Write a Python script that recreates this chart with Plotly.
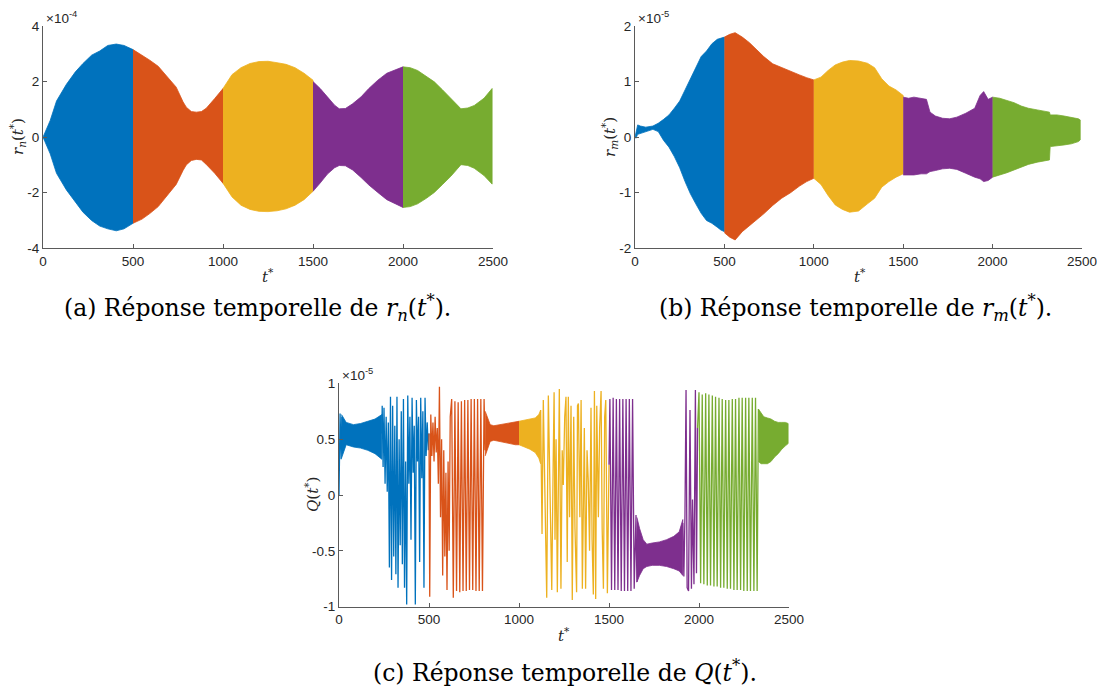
import plotly.graph_objects as go

# page body has an 8 px margin: figure is drawn inside it
PAGE_W, PAGE_H, OFF = 1105, 695, 8
W, H = PAGE_W - 2 * OFF, PAGE_H - 2 * OFF
C_BLUE, C_ORANGE, C_YELLOW, C_PURPLE, C_GREEN = "#0072BD", "#D95319", "#EDB120", "#7E2F8E", "#77AC30"

# ---------------- (a) r_n(t*), units of 1e-4 : envelopes ----------------
a_blue_t = [0, 10, 40, 75, 130, 180, 222, 270, 315, 360, 407, 450, 500]
a_blue_up = [0, 0.15, 0.6, 1.3, 1.9, 2.35, 2.65, 2.95, 3.1, 3.3, 3.35, 3.3, 3.15]
a_blue_lo = [0, -0.15, -0.6, -1.3, -1.9, -2.35, -2.7, -3.0, -3.2, -3.3, -3.37, -3.3, -3.1]
a_orange_t = [500, 550, 593, 640, 685, 740, 778, 796, 824, 852, 880, 907, 954, 1000]
a_orange_up = [3.15, 2.95, 2.77, 2.55, 2.23, 1.8, 1.27, 1.08, 0.92, 0.9, 0.92, 1.04, 1.39, 1.75]
a_orange_lo = [-3.1, -2.95, -2.75, -2.5, -2.15, -1.7, -1.2, -1.0, -0.84, -0.8, -0.82, -0.98, -1.3, -1.66]
a_yellow_t = [1000, 1050, 1100, 1150, 1200, 1250, 1300, 1350, 1400, 1450, 1500]
a_yellow_up = [1.75, 2.25, 2.5, 2.65, 2.72, 2.73, 2.68, 2.62, 2.5, 2.3, 2.05]
a_yellow_lo = [-1.66, -2.15, -2.45, -2.6, -2.67, -2.68, -2.65, -2.58, -2.45, -2.25, -1.95]
a_purple_t = [1500, 1540, 1580, 1620, 1646, 1680, 1720, 1767, 1810, 1860, 1910, 1952, 2000]
a_purple_up = [2.0, 1.75, 1.45, 1.15, 1.02, 1.03, 1.2, 1.45, 1.75, 2.05, 2.3, 2.42, 2.53]
a_purple_lo = [-1.95, -1.65, -1.33, -1.1, -1.02, -1.03, -1.18, -1.45, -1.72, -1.99, -2.25, -2.38, -2.53]
a_green_t = [2000, 2040, 2081, 2130, 2174, 2220, 2267, 2300, 2322, 2360, 2396, 2450, 2495]
a_green_up = [2.53, 2.5, 2.4, 2.2, 1.99, 1.7, 1.39, 1.15, 1.02, 1.05, 1.14, 1.4, 1.75]
a_green_lo = [-2.53, -2.5, -2.4, -2.2, -1.99, -1.7, -1.4, -1.15, -0.99, -1.02, -1.12, -1.38, -1.69]

# ---------------- (b) r_m(t*), units of 1e-5 : envelopes ----------------
b_blue_t = [0, 5, 15, 30, 60, 100, 130, 160, 190, 220, 250, 280, 310, 340, 370, 400, 430, 460, 480, 500]
b_blue_up = [0, 0.1, 0.22, 0.2, 0.18, 0.2, 0.25, 0.32, 0.4, 0.52, 0.65, 0.85, 1.05, 1.25, 1.45, 1.55, 1.68, 1.76, 1.78, 1.8]
b_blue_lo = [0, -0.02, 0.05, 0.07, 0.1, 0.14, 0.1, -0.06, -0.18, -0.35, -0.55, -0.8, -1.02, -1.2, -1.37, -1.5, -1.55, -1.62, -1.67, -1.7]
b_orange_t = [500, 530, 560, 600, 640, 680, 720, 770, 820, 870, 920, 960, 1000]
b_orange_up = [1.8, 1.85, 1.88, 1.8, 1.7, 1.58, 1.45, 1.32, 1.25, 1.18, 1.12, 1.07, 1.03]
b_orange_lo = [-1.72, -1.8, -1.85, -1.7, -1.6, -1.49, -1.38, -1.23, -1.1, -1.0, -0.88, -0.8, -0.74]
b_yellow_t = [1000, 1040, 1080, 1120, 1160, 1200, 1250, 1300, 1340, 1380, 1420, 1460, 1500]
b_yellow_up = [1.03, 1.08, 1.2, 1.3, 1.35, 1.38, 1.37, 1.33, 1.25, 1.05, 0.92, 0.85, 0.75]
b_yellow_lo = [-0.74, -0.85, -1.05, -1.22, -1.3, -1.35, -1.33, -1.2, -1.1, -0.9, -0.8, -0.72, -0.66]
b_purple_t = [1500, 1530, 1560, 1600, 1630, 1650, 1680, 1720, 1760, 1800, 1850, 1900, 1930, 1950, 1975, 2000]
b_purple_up = [0.72, 0.7, 0.72, 0.7, 0.68, 0.45, 0.38, 0.34, 0.33, 0.36, 0.43, 0.52, 0.75, 0.82, 0.68, 0.72]
b_purple_lo = [-0.68, -0.68, -0.68, -0.66, -0.66, -0.62, -0.6, -0.57, -0.56, -0.58, -0.65, -0.72, -0.75, -0.8, -0.78, -0.72]
b_green_t = [2000, 2040, 2080, 2120, 2160, 2200, 2250, 2300, 2318, 2322, 2360, 2400, 2440, 2480, 2490]
b_green_up = [0.72, 0.7, 0.66, 0.62, 0.56, 0.52, 0.49, 0.46, 0.45, 0.4, 0.4, 0.38, 0.36, 0.33, 0.31]
b_green_lo = [-0.72, -0.68, -0.64, -0.6, -0.54, -0.49, -0.45, -0.42, -0.41, -0.17, -0.16, -0.14, -0.12, -0.08, -0.05]

# ---------------- (c) Q(t*), units of 1e-5 ----------------
# dense bands (envelopes)
c_blue_band_t = [14, 40, 80, 120, 160, 200, 238]
c_blue_band_up = [0.72, 0.65, 0.63, 0.64, 0.66, 0.68, 0.72]
c_blue_band_lo = [0.33, 0.45, 0.43, 0.42, 0.40, 0.37, 0.32]
c_orange_band_t = [812, 825, 840, 860, 890, 920, 950, 980, 1000]
c_orange_band_up = [0.75, 0.70, 0.63, 0.62, 0.63, 0.64, 0.65, 0.66, 0.66]
c_orange_band_lo = [0.35, 0.40, 0.48, 0.49, 0.48, 0.47, 0.46, 0.45, 0.45]
c_yellow_band_t = [1000, 1030, 1060, 1090, 1110, 1120]
c_yellow_band_up = [0.66, 0.67, 0.68, 0.69, 0.72, 0.76]
c_yellow_band_lo = [0.45, 0.43, 0.41, 0.38, 0.33, 0.28]
c_purple_band_t = [1655, 1670, 1690, 1710, 1740, 1780, 1820, 1860, 1890, 1910]
c_purple_band_up = [-0.20, -0.30, -0.40, -0.44, -0.43, -0.42, -0.40, -0.37, -0.33, -0.22]
c_purple_band_lo = [-0.78, -0.72, -0.66, -0.64, -0.63, -0.63, -0.64, -0.66, -0.68, -0.72]
c_green_band_t = [2330, 2345, 2360, 2380, 2400, 2420, 2440, 2460, 2480, 2495]
c_green_band_up = [0.77, 0.73, 0.70, 0.69, 0.68, 0.66, 0.65, 0.65, 0.65, 0.64]
c_green_band_lo = [0.30, 0.28, 0.28, 0.28, 0.30, 0.34, 0.37, 0.41, 0.44, 0.46]

# large swings (polylines)
c_blue_sw0_t = [0, 6, 12, 16]
c_blue_sw0_q = [0.0, 0.73, 0.32, 0.70]
c_blue_sw_t = [238, 240, 245, 250, 256, 262, 268, 274, 280, 286, 292, 298, 304, 310, 316, 322, 328, 334, 340,
               346, 352, 358, 364, 370, 376, 382, 388, 394, 400, 406, 412, 418, 424, 430, 436, 442, 448, 454,
               460, 466, 472, 478, 484, 490, 496, 500]
c_blue_sw_q = [0.55, 0.80, 0.25, 0.78, 0.10, 0.70, 0.03, 0.65, -0.65, 0.88, -0.76, 0.80, -0.55, 0.62, -0.71, 0.88,
               -0.83, 0.50, -0.45, 0.75, -0.62, 0.86, -0.83, 0.30, -0.98, 0.89, 0.10, 0.70, -0.40, 0.87, 0.20,
               0.62, -0.98, 0.85, 0.30, 0.70, -0.60, 0.87, 0.15, 0.75, -0.83, 0.87, 0.35, 0.65, 0.40, 0.55]
c_orange_sw_t = [500, 504, 510, 516, 522, 528, 534, 540, 546, 552, 558, 564, 570, 576, 582, 588, 594, 600, 606,
                 612, 618, 626, 635, 644, 653, 662, 671, 680, 689, 698, 707, 716, 725, 734, 743, 752, 761, 770,
                 779, 788, 797, 806, 812]
c_orange_sw_q = [0.55, -0.91, 0.72, 0.35, 0.65, 0.30, 0.70, 0.38, 0.60, 0.10, 0.97, -0.20, 0.50, -0.72, 0.40,
                 -0.55, 0.20, -0.85, 0.30, -0.50, 0.70, 0.86, -0.92, 0.84, -0.86, 0.83, -0.87, 0.84, -0.86, 0.85,
                 -0.86, 0.85, -0.85, 0.86, -0.85, 0.86, -0.86, 0.86, -0.86, 0.86, -0.86, 0.86, 0.40]
c_yellow_sw_t = [1120, 1128, 1135, 1145, 1154, 1163, 1172, 1182, 1190, 1195, 1200, 1206, 1213, 1218, 1224, 1233,
                 1240, 1246, 1254, 1261, 1268, 1274, 1281, 1289, 1296, 1304, 1311, 1320, 1325, 1330, 1338, 1345,
                 1352, 1357, 1363, 1370, 1378, 1385, 1392, 1400, 1406, 1413, 1419, 1426, 1432, 1441, 1448, 1456,
                 1462, 1469, 1476, 1482, 1491, 1500]
c_yellow_sw_q = [0.76, -0.35, 0.85, 0.05, -0.92, 0.89, -0.10, -0.85, 0.30, 0.92, -0.40, 0.50, -0.87, 0.20, 0.95,
                 -0.84, 0.40, 0.09, 0.70, 0.88, -0.60, 0.88, -0.20, 0.80, -0.94, 0.70, -0.30, -0.87, 0.80, 0.82,
                 -0.20, 0.85, -0.84, -0.18, 0.60, -0.84, 0.40, 0.12, -0.50, 0.78, -0.40, -0.89, 0.93, -0.93, 0.80,
                 -0.20, 0.60, 0.93, -0.30, -0.84, 0.70, 0.85, -0.88, 0.27]
c_purple_sw1_t = [1500, 1505, 1514, 1523, 1532, 1541, 1550, 1559, 1568, 1577, 1586, 1595, 1604, 1613, 1622,
                  1631, 1640, 1650, 1655]
c_purple_sw1_q = [0.27, 0.86, -0.85, 0.87, -0.85, 0.86, -0.85, 0.86, -0.86, 0.86, -0.86, 0.86, -0.86, 0.86,
                  -0.86, 0.86, -0.84, -0.18, -0.78]
c_purple_sw2_t = [1910, 1916, 1922, 1928, 1934, 1942, 1950, 1958, 1964, 1972, 1980, 1986, 1992]
c_purple_sw2_q = [-0.25, -0.73, -0.18, 0.94, -0.83, -0.86, 0.76, -0.84, -0.04, -0.80, 0.94, -0.70, 0.60]
c_green_sw_t = [1992, 2000, 2009, 2018, 2027, 2037, 2046, 2055, 2064, 2074, 2083, 2092, 2101, 2111, 2120, 2129,
                2138, 2148, 2157, 2166, 2175, 2185, 2194, 2203, 2212, 2222, 2231, 2240, 2249, 2259, 2268, 2277,
                2286, 2296, 2305, 2314, 2323, 2330]
c_green_sw_q = [0.60, 0.92, -0.79, 0.90, -0.80, 0.91, -0.81, 0.90, -0.81, 0.89, -0.82, 0.88, -0.82, 0.87, -0.83,
                0.86, -0.83, 0.85, -0.84, 0.85, -0.84, 0.86, -0.85, 0.86, -0.85, 0.87, -0.85, 0.87, -0.86, 0.87,
                -0.86, 0.87, -0.86, 0.87, -0.86, 0.87, -0.86, 0.77]

ticks_x = [0, 500, 1000, 1500, 2000, 2500]
ticks_a = [-4, -2, 0, 2, 4]
ticks_b = [-2, -1, 0, 1, 2]
ticks_c = [-1, -0.5, 0, 0.5, 1]
ticktext_c = ["-1", "-0.5", "0", "0.5", "1"]

fig = go.Figure()


def band(t, up, lo, color, ax):
    fig.add_trace(go.Scatter(
        x=list(t) + list(t)[::-1], y=list(up) + list(lo)[::-1],
        fill="toself", fillcolor=color, mode="lines",
        line=dict(color=color, width=0.8), xaxis="x" + ax, yaxis="y" + ax,
        hoverinfo="skip", showlegend=False))


def swing(t, q, color, ax):
    fig.add_trace(go.Scatter(
        x=t, y=q, mode="lines", line=dict(color=color, width=1.3),
        xaxis="x" + ax, yaxis="y" + ax, hoverinfo="skip", showlegend=False))


band(a_blue_t, a_blue_up, a_blue_lo, C_BLUE, "")
band(a_orange_t, a_orange_up, a_orange_lo, C_ORANGE, "")
band(a_yellow_t, a_yellow_up, a_yellow_lo, C_YELLOW, "")
band(a_purple_t, a_purple_up, a_purple_lo, C_PURPLE, "")
band(a_green_t, a_green_up, a_green_lo, C_GREEN, "")

band(b_blue_t, b_blue_up, b_blue_lo, C_BLUE, "2")
band(b_orange_t, b_orange_up, b_orange_lo, C_ORANGE, "2")
band(b_yellow_t, b_yellow_up, b_yellow_lo, C_YELLOW, "2")
band(b_purple_t, b_purple_up, b_purple_lo, C_PURPLE, "2")
band(b_green_t, b_green_up, b_green_lo, C_GREEN, "2")

swing(c_blue_sw0_t, c_blue_sw0_q, C_BLUE, "3")
band(c_blue_band_t, c_blue_band_up, c_blue_band_lo, C_BLUE, "3")
swing(c_blue_sw_t, c_blue_sw_q, C_BLUE, "3")
swing(c_orange_sw_t, c_orange_sw_q, C_ORANGE, "3")
band(c_orange_band_t, c_orange_band_up, c_orange_band_lo, C_ORANGE, "3")
band(c_yellow_band_t, c_yellow_band_up, c_yellow_band_lo, C_YELLOW, "3")
swing(c_yellow_sw_t, c_yellow_sw_q, C_YELLOW, "3")
swing(c_purple_sw1_t, c_purple_sw1_q, C_PURPLE, "3")
band(c_purple_band_t, c_purple_band_up, c_purple_band_lo, C_PURPLE, "3")
swing(c_purple_sw2_t, c_purple_sw2_q, C_PURPLE, "3")
swing(c_green_sw_t, c_green_sw_q, C_GREEN, "3")
band(c_green_band_t, c_green_band_up, c_green_band_lo, C_GREEN, "3")

AXC = "#5a5a5a"
SANS = "Liberation Sans, Arial, sans-serif"
TF = dict(family=SANS, size=13.5, color="#262626")


def xax(dom, anchor):
    return dict(domain=dom, anchor=anchor, range=[0, 2500], tickvals=ticks_x,
                ticktext=[str(v) for v in ticks_x], showline=True, linecolor=AXC, linewidth=1,
                ticks="inside", ticklen=4, tickcolor=AXC, showgrid=False, zeroline=False,
                tickfont=TF, fixedrange=True, automargin=False, ticklabeloverflow="allow")


def yax(dom, anchor, rng, tv, tt):
    return dict(domain=dom, anchor=anchor, range=rng, tickvals=tv, ticktext=tt,
                showline=True, linecolor=AXC, linewidth=1, ticks="inside", ticklen=4,
                tickcolor=AXC, showgrid=False, zeroline=False, tickfont=TF, fixedrange=True,
                automargin=False, ticklabeloverflow="allow")


def fx(px):
    return (px - OFF) / W


def fy(py):
    return 1 - (py - OFF) / H


ax_a = (43, 493, 26, 248.3)
ax_b = (635, 1082, 26, 248.3)
ax_c = (339, 789, 383.3, 606.7)

fig.update_layout(
    template="none",
    width=W, height=H, margin=dict(l=0, r=0, t=0, b=0, autoexpand=False),
    plot_bgcolor="white", paper_bgcolor="white", showlegend=False,
    xaxis=xax([fx(ax_a[0]), fx(ax_a[1])], "y"),
    yaxis=yax([fy(ax_a[3]), fy(ax_a[2])], "x", [-4, 4], ticks_a, [str(v) for v in ticks_a]),
    xaxis2=xax([fx(ax_b[0]), fx(ax_b[1])], "y2"),
    yaxis2=yax([fy(ax_b[3]), fy(ax_b[2])], "x2", [-2, 2], ticks_b, [str(v) for v in ticks_b]),
    xaxis3=xax([fx(ax_c[0]), fx(ax_c[1])], "y3"),
    yaxis3=yax([fy(ax_c[3]), fy(ax_c[2])], "x3", [-1, 1], ticks_c, ticktext_c),
)

SERIF = "DejaVu Serif, Liberation Serif, serif"
ann = []


def note(x, y, text, size, family, xanchor="center", yanchor="middle", angle=0, color="#262626"):
    ann.append(dict(x=fx(x), y=fy(y), xref="paper", yref="paper", text=text, showarrow=False,
                    xanchor=xanchor, yanchor=yanchor, textangle=angle,
                    font=dict(size=size, family=family, color=color)))


# exponent labels
note(ax_a[0] + 1, ax_a[2] + 2, "×10<sup>-4</sup>", 13.5, SANS, xanchor="left", yanchor="bottom")
note(ax_b[0] + 1, ax_b[2] + 2, "×10<sup>-5</sup>", 13.5, SANS, xanchor="left", yanchor="bottom")
note(ax_c[0] + 1, ax_c[2] + 2, "×10<sup>-5</sup>", 13.5, SANS, xanchor="left", yanchor="bottom")
# axis titles
note(268, 276, "<i>t</i><sup>*</sup>", 15, SERIF)
note(860, 276, "<i>t</i><sup>*</sup>", 15, SERIF)
note(564, 635, "<i>t</i><sup>*</sup>", 15, SERIF)
note(17, 137, "<i>r<sub>n</sub></i>(<i>t</i><sup>*</sup>)", 15, SERIF, angle=-90)
note(609, 137, "<i>r<sub>m</sub></i>(<i>t</i><sup>*</sup>)", 15, SERIF, angle=-90)
note(312, 495, "<i>Q</i>(<i>t</i><sup>*</sup>)", 15, SERIF, angle=-90)
# captions
CAP = 23.5
note(257, 308, "(a) Réponse temporelle de <i>r<sub>n</sub></i>(<i>t</i><sup>*</sup>).", CAP, SERIF, color="black")
note(855, 308, "(b) Réponse temporelle de <i>r<sub>m</sub></i>(<i>t</i><sup>*</sup>).", CAP, SERIF, color="black")
note(565, 671, "(c) Réponse temporelle de <i>Q</i>(<i>t</i><sup>*</sup>).", CAP, SERIF, color="black")

fig.update_layout(annotations=ann)
fig.write_html("out.html")
